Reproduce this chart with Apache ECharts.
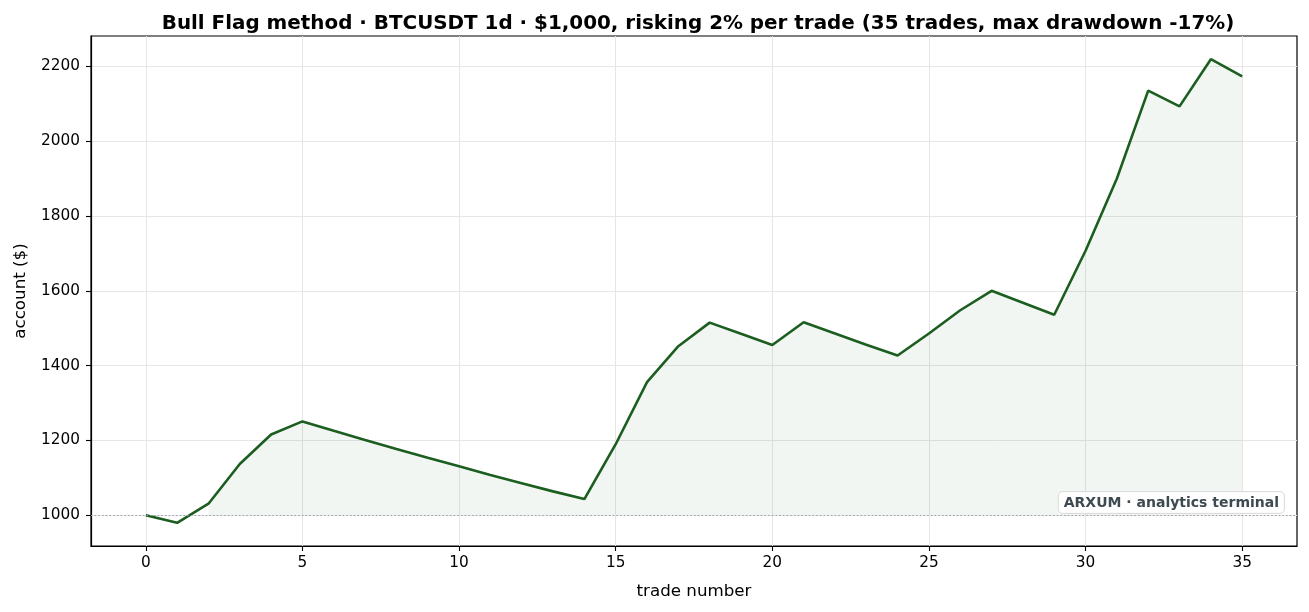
<!DOCTYPE html>
<html>
<head>
<meta charset="utf-8">
<script src="https://cdn.jsdelivr.net/npm/echarts@6/dist/echarts.min.js"></script>
<style>
html,body{margin:0;padding:0;background:#fff;}
#chart{width:1309px;height:612px;}
</style>
</head>
<body>
<div id="chart"></div>
<script>
// Data
const tradeNumbers = [0,1,2,3,4,5,6,7,8,9,10,11,12,13,14,15,16,17,18,19,20,21,22,23,24,25,26,27,28,29,30,31,32,33,34,35];
const accountValues = [1000,980,1031,1137,1216,1251,1226,1201.5,1177.5,1154,1131,1108,1086,1064,1043.5,
  1190,1356,1452,1515,1485,1455,1516,1486,1456,1427,1486,1548,1600,1568,1536,1707,1900,2135,2093,2219,2173];
const xTickValues = [0,5,10,15,20,25,30,35];
const yTickValues = [1000,1200,1400,1600,1800,2000,2200];
const startBalance = 1000;
const titleText = 'Bull Flag method · BTCUSDT 1d · $1,000, risking 2% per trade (35 trades, max drawdown -17%)';

const lineData = tradeNumbers.map((x, i) => [x, accountValues[i]]);
// fill only where account >= start (segment-wise, like fill_between where=)
const above = accountValues.map(v => v >= startBalance);
const fillData = tradeNumbers.map((x, i) => {
  const ok = above[i] && ((i > 0 && above[i-1]) || (i < above.length-1 && above[i+1]));
  return ok ? [x, accountValues[i]] : [x, '-'];
});

const FONT = 'DejaVu Sans';
const chart = echarts.init(document.getElementById('chart'), null, {renderer: 'canvas'});
chart.setOption({
  animation: false,
  backgroundColor: '#fff',
  title: {
    text: titleText,
    left: 693, textAlign: 'center', top: 9,
    textStyle: {fontFamily: FONT, fontWeight: 'bold', fontSize: 19.9, color: '#000'}
  },
  grid: {left: 91, right: 12, top: 36, bottom: 66, show: true, borderColor: '#000', borderWidth: 1.2, backgroundColor: 'transparent'},
  xAxis: {
    type: 'value', min: -1.75, max: 36.75,
    name: 'trade number', nameLocation: 'middle', nameGap: 37,
    nameTextStyle: {fontFamily: FONT, fontSize: 16.7, color: '#000'},
    axisLine: {show: true, onZero: false, lineStyle: {color: '#000', width: 1.2}},
    axisTick: {show: true, customValues: xTickValues, length: 5, lineStyle: {color: '#000', width: 1.1}},
    axisLabel: {customValues: xTickValues, margin: 10, fontFamily: FONT, fontSize: 15.3, color: '#000',
      formatter: v => String(v)},
    splitLine: {show: true, lineStyle: {color: '#e6e6e6', width: 1}}
  },
  yAxis: {
    type: 'value', min: 918, max: 2281,
    name: 'account ($)', nameLocation: 'middle', nameGap: 62,
    nameTextStyle: {fontFamily: FONT, fontSize: 16.7, color: '#000'},
    axisLine: {show: true, onZero: false, lineStyle: {color: '#000', width: 1.2}},
    axisTick: {show: true, customValues: yTickValues, length: 5, lineStyle: {color: '#000', width: 1.1}},
    axisLabel: {customValues: yTickValues, margin: 11, fontFamily: FONT, fontSize: 15.3, color: '#000',
      formatter: v => String(v)},
    splitLine: {show: true, lineStyle: {color: '#e6e6e6', width: 1}}
  },
  series: [
    {
      type: 'line', data: fillData, symbol: 'none', silent: true,
      lineStyle: {opacity: 0, width: 0},
      areaStyle: {origin: startBalance, color: 'rgba(27,94,32,0.085)'},
      z: 1
    },
    {
      type: 'line', data: lineData, symbol: 'none',
      lineStyle: {color: '#1b5e20', width: 2.6},
      z: 3,
      markLine: {
        silent: true, symbol: 'none', label: {show: false},
        lineStyle: {color: '#9a9ea3', type: [1.5, 2.2], width: 1.2},
        data: [{yAxis: startBalance}]
      }
    }
  ],
  graphic: [{
    type: 'text', right: 24, top: 491, z: 10,
    style: {
      text: 'ARXUM · analytics terminal',
      font: 'bold 14px "DejaVu Sans"', fill: '#3d4a52',
      backgroundColor: 'rgba(255,255,255,0.85)', borderColor: '#dcdcdc', borderWidth: 1,
      borderRadius: 4, padding: [4, 5, 3, 5]
    }
  }]
});
</script>
</body>
</html>
